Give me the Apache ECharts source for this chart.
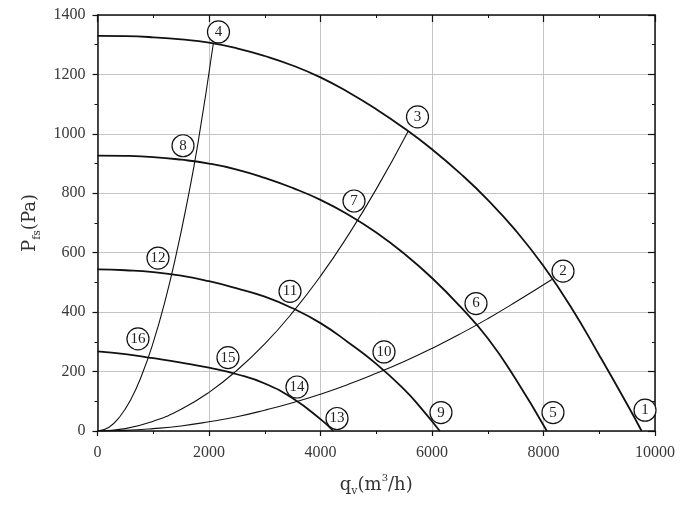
<!DOCTYPE html>
<html>
<head>
<meta charset="utf-8">
<script src="https://cdn.jsdelivr.net/npm/echarts/dist/echarts.min.js"></script>
<style>
    html, body {margin: 0; padding: 0; background: #fff;}
    #chart {width: 700px; height: 509px;}
</style>
</head>
<body>
<div id="chart"></div>
<script>
// fan curves: flow q (m3/h) and static pressure P (Pa)
const fanAQ = [0, 500, 1000, 1500, 2000, 2500, 3000, 3500, 4000, 4500, 5000, 5500, 6000, 6500, 7000, 7500, 8000, 8500, 9000, 9500, 9760];
const fanAP = [1330, 1329, 1325, 1318, 1307, 1288, 1262, 1230, 1190, 1140, 1083, 1019, 948, 868, 778, 675, 555, 415, 255, 90, 0];
const fanBQ = [0, 500, 1000, 1500, 2000, 2500, 3000, 3500, 4000, 4500, 5000, 5500, 6000, 6500, 7000, 7500, 8060];
const fanBP = [927, 926, 922, 913, 900, 880, 852, 818, 778, 728, 668, 597, 515, 420, 312, 175, 0];
const fanCQ = [0, 500, 1000, 1500, 2000, 2500, 3000, 3500, 4000, 4500, 5000, 5500, 5800, 6140];
const fanCP = [544, 541, 535, 523, 504, 480, 452, 413, 363, 298, 226, 140, 78, 0];
const fanDQ = [0, 500, 1000, 1500, 2000, 2500, 3000, 3500, 4000, 4230];
const fanDP = [268, 259, 245, 230, 213, 191, 160, 110, 40, 0];

// system resistance curves through the origin
const pipe1Q = [0, 200, 400, 600, 800, 1000, 1200, 1400, 1600, 1800, 2078];
const pipe1P = [0, 12, 48, 107, 191, 298, 429, 584, 763, 966, 1305];
const pipe2Q = [0, 500, 1000, 1500, 2000, 2500, 3000, 3500, 4000, 4500, 5000, 5575];
const pipe2P = [0, 8, 33, 73, 130, 204, 293, 399, 521, 660, 814, 1010];
const pipe3Q = [0, 500, 1000, 1500, 2000, 2500, 3000, 3500, 4000, 4500, 5000, 5500, 6000, 6500, 7000, 7500, 8150];
const pipe3P = [0, 2, 8, 17, 31, 48, 70, 95, 124, 157, 194, 234, 278, 326, 378, 434, 510];

// circled point numbers
const markText = ['1', '2', '3', '4', '5', '6', '7', '8', '9', '10', '11', '12', '13', '14', '15', '16'];
const markQ = [9821, 8350, 5740, 2170, 8170, 6789, 4601, 1534, 6161, 5139, 3453, 1085, 4296, 3578, 2340, 726];
const markP = [70, 538, 1057, 1343, 62, 429, 774, 960, 62, 266, 470, 582, 42, 148, 247, 310];

const xTicks = {min: 0, max: 10000, interval: 2000};
const yTicks = {min: 0, max: 1400, interval: 200};

const font = 'Liberation Serif';
const nameFont = 'DejaVu Serif';

const pairs = function (qs, ps) {
    return qs.map(function (q, i) {
        return [q, ps[i]];
    });
};

const curve = function (name, qs, ps, width) {
    return {
        name: name
        , type: 'line'
        , data: pairs(qs, ps)
        , smooth: 0.5
        , showSymbol: false
        , lineStyle: {color: '#111', width: width}
        , z: 3
    };
};

const baseAxis = function (ticks, pos, main) {
    return {
        type: 'value'
        , position: pos
        , min: ticks.min
        , max: ticks.max
        , interval: ticks.interval
        , axisLine: {show: true, onZero: false, lineStyle: {color: '#111', width: 1.5}}
        , axisTick: {show: true, inside: !main, length: main ? 5 : 7, lineStyle: {color: '#111', width: 1.2}}
        , minorTick: {show: true, splitNumber: 2, length: 3, lineStyle: {color: '#111', width: 1}}
        , splitLine: {show: main, lineStyle: {color: '#c4c4c4', width: 1}}
        , axisLabel: {
            show: main
            , color: '#383838'
            , fontFamily: font
            , fontSize: 16
            , margin: 12
            , formatter: function (v) {
                return String(v);
            }
        }
    };
};

const nameRich = {
    t: {fontSize: 18, lineHeight: 24, verticalAlign: 'middle', fontFamily: nameFont, color: '#333'}
    , s: {fontSize: 11, lineHeight: 10, verticalAlign: 'bottom', fontFamily: nameFont, color: '#333'}
    , p: {fontSize: 10, lineHeight: 10, verticalAlign: 'top', fontFamily: nameFont, color: '#333'}
};

const chart = echarts.init(document.getElementById('chart'));

const xMain = baseAxis(xTicks, 'bottom', true);
xMain.name = '{t|q}{s|v}{t|(m}{p|3}{t|/h)}';
xMain.nameLocation = 'middle';
xMain.nameGap = 42;
xMain.nameTextStyle = {color: '#333', fontFamily: nameFont, rich: nameRich};
xMain.axisLabel.margin = 14;

const yMain = baseAxis(yTicks, 'left', true);
yMain.name = '{t|P}{s|fs}{t|(Pa)}';
yMain.nameLocation = 'middle';
yMain.nameRotate = 90;
yMain.nameGap = 54;
yMain.nameTextStyle = {color: '#333', fontFamily: nameFont, rich: nameRich};

const option = {
    animation: false
    , backgroundColor: '#fff'
    , grid: {left: 97.5, right: 45, top: 15, bottom: 78}
    , xAxis: [xMain, baseAxis(xTicks, 'top', false)]
    , yAxis: [yMain, baseAxis(yTicks, 'right', false)]
    , series: [
        curve('fanA', fanAQ, fanAP, 1.8)
        , curve('fanB', fanBQ, fanBP, 1.8)
        , curve('fanC', fanCQ, fanCP, 1.8)
        , curve('fanD', fanDQ, fanDP, 1.8)
        , curve('pipe1', pipe1Q, pipe1P, 1.1)
        , curve('pipe2', pipe2Q, pipe2P, 1.1)
        , curve('pipe3', pipe3Q, pipe3P, 1.1)
        , {
            name: 'marks'
            , type: 'scatter'
            , symbol: 'circle'
            , symbolSize: 22
            , z: 5
            , itemStyle: {color: '#fff', borderColor: '#111', borderWidth: 1.2, opacity: 1}
            , label: {
                show: true
                , position: 'inside'
                , color: '#222'
                , fontFamily: font
                , fontSize: 15
                , formatter: function (p) {
                    return p.name;
                }
            }
            , data: markText.map(function (t, i) {
                return {name: t, value: [markQ[i], markP[i]]};
            })
        }
    ]
};

chart.setOption(option);
</script>
</body>
</html>
